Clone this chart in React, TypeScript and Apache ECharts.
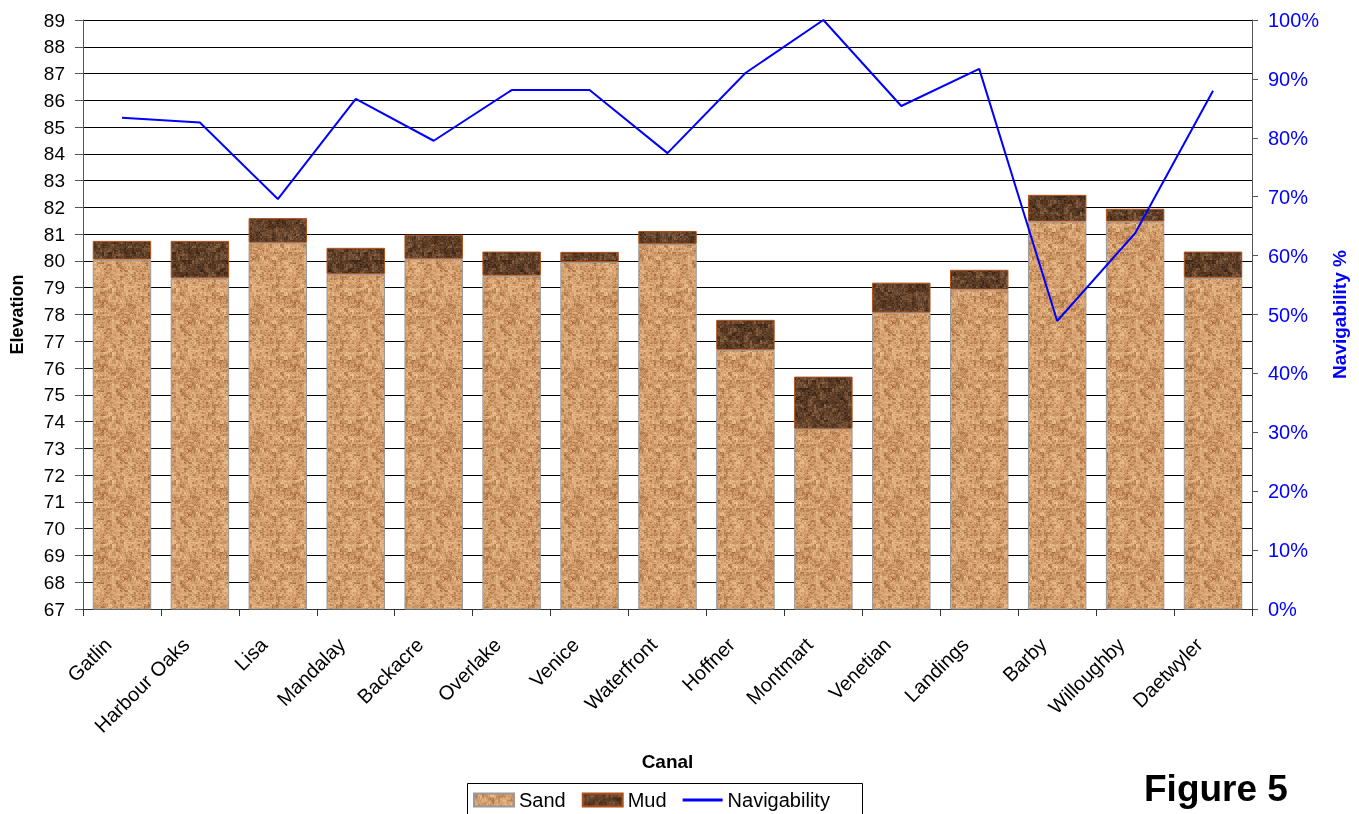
import React, { useEffect, useRef } from "react";
import * as echarts from "echarts";

const categories = ["Gatlin", "Harbour Oaks", "Lisa", "Mandalay", "Backacre", "Overlake", "Venice", "Waterfront", "Hoffner", "Montmart", "Venetian", "Landings", "Barby", "Willoughby", "Daetwyler"];
const sand = [80.05, 79.35, 80.68, 79.5, 80.08, 79.45, 79.96, 80.63, 76.68, 73.73, 78.07, 78.93, 81.47, 81.47, 79.37];
const mud = [0.7, 1.4, 0.92, 0.99, 0.9, 0.9, 0.38, 0.49, 1.12, 1.95, 1.12, 0.74, 1.0, 0.48, 0.98];
const navigability = [0.834, 0.826, 0.696, 0.866, 0.795, 0.881, 0.881, 0.774, 0.91, 1.0, 0.854, 0.917, 0.489, 0.638, 0.88];
const elevationTicks = { min: 67, max: 89, interval: 1 };

function hash(i: number, j: number, s: number) {
  let h = (i * 374761393 + j * 668265263 + s * 982451653) | 0;
  h = (h ^ (h >>> 13)) * 1274126177;
  h = h ^ (h >>> 16);
  return ((h >>> 0) % 10000) / 10000;
}

function makeTexture(base: [number, number, number], dark: [number, number, number], light: [number, number, number], seed: number) {
  const size = 64;
  const c = document.createElement("canvas");
  c.width = size;
  c.height = size;
  const ctx = c.getContext("2d")!;
  const img = ctx.createImageData(size, size);
  for (let y = 0; y < size; y++) {
    for (let x = 0; x < size; x++) {
      const a = hash(x, y, seed);
      const b = hash(x >> 1, y >> 1, seed + 7);
      const d = hash(x >> 2, y >> 2, seed + 13);
      const v = 0.3 * a + 0.35 * b + 0.35 * d;
      let col: number[];
      if (v < 0.5) {
        const t = (0.5 - v) * 2;
        col = base.map((bv, k) => bv + (dark[k] - bv) * t);
      } else {
        const t = (v - 0.5) * 2;
        col = base.map((bv, k) => bv + (light[k] - bv) * t);
      }
      const idx = (y * size + x) * 4;
      img.data[idx] = col[0];
      img.data[idx + 1] = col[1];
      img.data[idx + 2] = col[2];
      img.data[idx + 3] = 255;
    }
  }
  ctx.putImageData(img, 0, 0);
  return c;
}

export default function App() {
  const ref = useRef<HTMLDivElement>(null);
  useEffect(() => {
    if (!ref.current) return;
    const chart = echarts.init(ref.current, undefined, { renderer: "svg" });
    const sandTex = makeTexture([214, 160, 110], [150, 92, 50], [244, 206, 158], 3);
    const mudTex = makeTexture([95, 62, 38], [45, 28, 16], [150, 112, 82], 11);
    const font = "Liberation Sans, Arial, sans-serif";
    chart.setOption({
      animation: false,
      textStyle: { fontFamily: font },
      grid: { left: 82, right: 107, top: 20, bottom: 205 },
      legend: {
        top: 790,
        left: 473,
        itemGap: 16,
        itemWidth: 40,
        itemHeight: 13,
        padding: 0,
        textStyle: { fontSize: 20, color: "#000", fontFamily: font },
        data: [
          { name: "Sand", icon: "rect" },
          { name: "Mud", icon: "rect" },
          { name: "Navigability", icon: "path://M0,0 H40 V3 H0 Z", itemStyle: { color: "#0000FF" } },
        ],
      },
      xAxis: {
        type: "category",
        data: categories,
        name: "Canal",
        nameLocation: "middle",
        nameGap: 143,
        nameTextStyle: { fontWeight: "bold", fontSize: 19, color: "#000" },
        axisLine: { lineStyle: { color: "#333", width: 1 } },
        axisTick: { show: true, length: 7, lineStyle: { color: "#333" } },
        axisLabel: { rotate: 45, fontSize: 20, color: "#000", margin: 18, padding: [0, 20, 0, 0] },
      },
      yAxis: [
        {
          type: "value",
          min: elevationTicks.min,
          max: elevationTicks.max,
          interval: elevationTicks.interval,
          name: "Elevation",
          nameLocation: "middle",
          nameGap: 57,
          nameRotate: 90,
          nameTextStyle: { fontWeight: "bold", fontSize: 18, color: "#000" },
          axisLine: { show: true, lineStyle: { color: "#555" } },
          axisTick: { show: true, length: 8, lineStyle: { color: "#555" } },
          axisLabel: { fontSize: 19, color: "#000", margin: 18 },
          splitLine: { show: true, lineStyle: { color: "#000", width: 1 } },
        },
        {
          type: "value",
          min: 0,
          max: 1,
          interval: 0.1,
          position: "right",
          name: "Navigability %",
          nameLocation: "middle",
          nameGap: 70,
          nameRotate: 90,
          nameTextStyle: { fontWeight: "bold", fontSize: 19, color: "#0000FF" },
          axisLine: { show: true, lineStyle: { color: "#555" } },
          axisTick: { show: true, length: 6, lineStyle: { color: "#555" } },
          axisLabel: { fontSize: 20, color: "#0000FF", margin: 16, formatter: (v: number) => Math.round(v * 100) + "%" },
          splitLine: { show: false },
        },
      ],
      series: [
        {
          name: "Sand",
          type: "bar",
          stack: "elev",
          data: sand,
          barWidth: "75%",
          itemStyle: { color: { image: sandTex, repeat: "repeat" }, borderColor: "#999", borderWidth: 1 },
        },
        {
          name: "Mud",
          type: "bar",
          stack: "elev",
          data: mud,
          barWidth: "75%",
          itemStyle: { color: { image: mudTex, repeat: "repeat" }, borderColor: "#B0501A", borderWidth: 1 },
        },
        {
          name: "Navigability",
          type: "line",
          yAxisIndex: 1,
          data: navigability,
          showSymbol: false,
          symbol: "none",
          itemStyle: { color: "#0000FF" },
          lineStyle: { color: "#0000FF", width: 2 },
        },
      ],
      graphic: [
        {
          type: "rect",
          shape: { x: 467.5, y: 783.5, width: 395, height: 40 },
          style: { fill: "none", stroke: "#000", lineWidth: 1 },
          silent: true,
        },
        {
          type: "text",
          left: 1144,
          top: 770,
          style: { text: "Figure 5", font: "bold 37px Liberation Sans, Arial, sans-serif", fill: "#000" },
        },
      ],
    });
    return () => chart.dispose();
  }, []);
  return <div ref={ref} style={{ position: "fixed", left: 0, top: 0, width: 1359, height: 814 }} />;
}
